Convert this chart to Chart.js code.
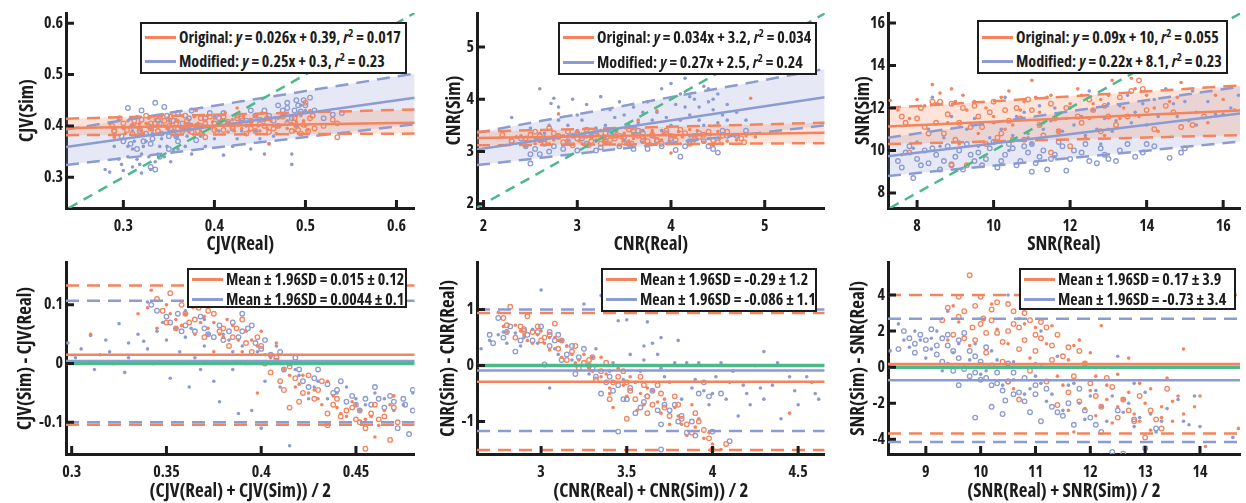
<!DOCTYPE html>
<html>
<head>
<meta charset="utf-8">
<script src="https://cdn.jsdelivr.net/npm/chart.js@4.4.1/dist/chart.umd.min.js"></script>
<style>
body { margin: 0; background: #fff; width: 1246px; height: 503px; position: relative; overflow: hidden; font-family: "Open Sans", sans-serif; }
canvas { position: absolute; }
.leg { position: absolute; border: 2.5px solid #1c1c1c; background: #fff; box-sizing: border-box; color: #1c1c1c; font-weight: bold; font-size: 16px; font-stretch: semi-condensed; }
.leg .row { position: absolute; white-space: nowrap; height: 18px; line-height: 18px; }
.leg .ln { display: inline-block; width: 31px; height: 3px; vertical-align: middle; margin-right: 3px; position: relative; top: -1px; }
.leg sup { font-size: 11px; line-height: 0; }
</style>
</head>
<body>
<canvas id="p1"></canvas>
<canvas id="p2"></canvas>
<canvas id="p3"></canvas>
<canvas id="p4"></canvas>
<canvas id="p5"></canvas>
<canvas id="p6"></canvas>
<script>
// colours
const ORANGE = '#F3845D';
const BLUE = '#8C9BD2';
const GREEN = '#4DB98A';
const ORANGE_FILL = 'rgba(243,132,93,0.22)';
const BLUE_FILL = 'rgba(140,155,210,0.22)';
const INK = '#1c1c1c';

// ============ CJV: Sim vs Real ============
const cjvXRange = [0.237, 0.62];
const cjvYRange = [0.24, 0.62];
const cjvXTicks = ['0.3', '0.4', '0.5', '0.6'];
const cjvYTicks = ['0.3', '0.4', '0.5', '0.6'];
// y at the left and right ends of the axis
const cjvOrigFit = [0.396, 0.406];
const cjvOrigUpper = [0.414, 0.432];
const cjvOrigLower = [0.382, 0.385];
const cjvModFit = [0.359, 0.455];
const cjvModUpper = [0.393, 0.502];
const cjvModLower = [0.324, 0.403];
const cjvOrigDots = [[0.285,0.405],[0.29,0.378],[0.30,0.395],[0.305,0.41],[0.31,0.402],[0.315,0.418],[0.32,0.39],[0.325,0.405],[0.33,0.398],[0.335,0.412],[0.34,0.385],[0.345,0.40],[0.35,0.415],[0.355,0.392],[0.36,0.408],[0.365,0.42],[0.37,0.395],[0.375,0.403],[0.38,0.43],[0.385,0.39],[0.39,0.41],[0.395,0.398],[0.40,0.415],[0.41,0.40],[0.415,0.388],[0.42,0.412],[0.425,0.435],[0.43,0.395],[0.44,0.405],[0.445,0.42],[0.45,0.39],[0.455,0.41],[0.46,0.365],[0.465,0.40],[0.47,0.415],[0.48,0.395],[0.49,0.408],[0.495,0.42],[0.50,0.40],[0.505,0.43],
    [0.295,0.412],[0.302,0.385],[0.308,0.398],[0.318,0.405],[0.322,0.385],[0.328,0.415],[0.332,0.392],[0.338,0.402],[0.343,0.422],[0.348,0.395],[0.352,0.405],[0.358,0.412],[0.362,0.398],[0.368,0.405],[0.372,0.388],[0.378,0.418],[0.382,0.405],[0.388,0.398],[0.392,0.42],[0.398,0.408],[0.402,0.392],[0.408,0.412],[0.412,0.425],[0.418,0.40],[0.422,0.39],[0.428,0.405],[0.432,0.418],[0.438,0.39],[0.442,0.41],[0.448,0.40],[0.452,0.425],[0.458,0.395],[0.462,0.41],[0.468,0.385],[0.472,0.40],[0.478,0.42],[0.485,0.405],[0.488,0.39],[0.498,0.41],[0.502,0.392]];
const cjvOrigRings = [[0.29,0.39],[0.30,0.405],[0.31,0.385],[0.315,0.40],[0.32,0.412],[0.33,0.395],[0.335,0.405],[0.34,0.418],[0.35,0.40],[0.355,0.385],[0.36,0.395],[0.37,0.41],[0.375,0.388],[0.38,0.40],[0.385,0.415],[0.39,0.378],[0.40,0.392],[0.405,0.405],[0.41,0.418],[0.42,0.398],[0.43,0.41],[0.435,0.385],[0.44,0.395],[0.45,0.412],[0.455,0.40],[0.46,0.388],[0.47,0.40],[0.475,0.418],[0.485,0.39],[0.49,0.40],[0.495,0.385],[0.50,0.445],[0.505,0.415],[0.51,0.395],[0.52,0.40],[0.53,0.412],[0.535,0.378],[0.535,0.405],
    [0.288,0.40],[0.296,0.415],[0.304,0.392],[0.312,0.41],[0.318,0.395],[0.325,0.42],[0.33,0.405],[0.338,0.39],[0.345,0.41],[0.352,0.418],[0.358,0.405],[0.365,0.39],[0.368,0.42],[0.372,0.4],[0.382,0.39],[0.39,0.405],[0.395,0.418],[0.41,0.392],[0.415,0.408],[0.425,0.415],[0.44,0.41],[0.445,0.39],[0.458,0.415],[0.465,0.395],[0.48,0.405],[0.488,0.415],[0.492,0.392],[0.498,0.402],[0.503,0.39],[0.508,0.42]];
const cjvModDots = [[0.28,0.315],[0.285,0.31],[0.29,0.36],[0.295,0.335],[0.30,0.313],[0.305,0.34],[0.31,0.32],[0.31,0.355],[0.315,0.335],[0.32,0.345],[0.32,0.308],[0.325,0.37],[0.33,0.315],[0.335,0.33],[0.34,0.36],[0.345,0.34],[0.35,0.39],[0.355,0.35],[0.36,0.355],[0.37,0.38],[0.375,0.345],[0.38,0.40],[0.39,0.36],[0.40,0.375],[0.41,0.343],[0.42,0.36],[0.43,0.39],[0.44,0.355],[0.45,0.375],[0.455,0.345],[0.46,0.365],[0.47,0.40],[0.48,0.41],[0.485,0.325],[0.485,0.345],[0.49,0.42],[0.33,0.395],[0.36,0.41],[0.40,0.42],[0.44,0.41],
    [0.298,0.325],[0.305,0.36],[0.312,0.37],[0.318,0.325],[0.322,0.36],[0.328,0.34],[0.332,0.385],[0.338,0.345],[0.342,0.375],[0.348,0.36],[0.352,0.33],[0.358,0.38],[0.365,0.395],[0.368,0.36],[0.372,0.405],[0.385,0.38],[0.395,0.395],[0.405,0.39],[0.415,0.405],[0.425,0.375],[0.435,0.40],[0.445,0.39],[0.455,0.41],[0.465,0.38],[0.475,0.42],[0.49,0.40],[0.495,0.44],[0.50,0.43],[0.31,0.39],[0.35,0.41]];
const cjvModRings = [[0.29,0.39],[0.30,0.37],[0.305,0.435],[0.31,0.40],[0.315,0.355],[0.32,0.43],[0.325,0.385],[0.33,0.365],[0.335,0.445],[0.34,0.405],[0.345,0.437],[0.35,0.38],[0.355,0.41],[0.36,0.425],[0.37,0.395],[0.375,0.43],[0.38,0.372],[0.39,0.415],[0.40,0.405],[0.41,0.425],[0.42,0.395],[0.43,0.415],[0.44,0.43],[0.45,0.405],[0.46,0.42],[0.47,0.44],[0.48,0.435],[0.485,0.415],[0.49,0.45],[0.495,0.428],[0.50,0.44],[0.505,0.455],[0.51,0.43],[0.52,0.415],[0.53,0.422],[0.54,0.425],[0.335,0.315],[0.33,0.32],
    [0.298,0.38],[0.308,0.365],[0.318,0.39],[0.322,0.37],[0.328,0.40],[0.332,0.375],[0.338,0.41],[0.342,0.385],[0.348,0.42],[0.352,0.395],[0.358,0.38],[0.365,0.405],[0.372,0.415],[0.385,0.4],[0.395,0.425],[0.405,0.415],[0.415,0.405],[0.425,0.42],[0.435,0.41],[0.445,0.42],[0.455,0.43],[0.465,0.41],[0.475,0.43],[0.48,0.445],[0.488,0.43],[0.492,0.44],[0.498,0.45],[0.35,0.355],[0.34,0.34],[0.36,0.37]];
const cjvLegend = ['Original: <i>y</i> = 0.026x + 0.39, <i>r</i><sup>2</sup> = 0.017', 'Modified: <i>y</i> = 0.25x + 0.3, <i>r</i><sup>2</sup> = 0.23'];

// ============ CNR: Sim vs Real ============
const cnrXRange = [1.93, 5.64];
const cnrYRange = [1.92, 5.65];
const cnrXTicks = ['2', '3', '4', '5'];
const cnrYTicks = ['2', '3', '4', '5'];
const cnrOrigFit = [3.26, 3.36];
const cnrOrigUpper = [3.38, 3.55];
const cnrOrigLower = [3.12, 3.16];
const cnrModFit = [3.04, 4.04];
const cnrModUpper = [3.36, 4.58];
const cnrModLower = [2.74, 3.50];
const cnrOrigDots = [[2.35,3.28],[2.5,3.2],[2.6,3.35],[2.7,3.15],[2.8,3.72],[2.85,3.3],[2.9,3.2],[3.0,3.38],[3.05,3.15],[3.1,3.28],[3.2,3.22],[3.25,3.4],[3.3,3.18],[3.4,3.3],[3.45,3.12],[3.5,3.35],[3.6,3.25],[3.65,3.6],[3.7,3.18],[3.8,3.4],[3.85,3.78],[3.9,3.22],[4.0,2.97],[4.05,3.3],[4.1,3.15],[4.2,3.42],[4.25,3.2],[4.3,3.32],[4.4,3.25],[4.45,3.12],[4.5,3.38],[4.6,3.2],[4.8,3.3],[4.85,4.02],[4.9,3.28],
    [2.4,3.3],[2.55,3.15],[2.65,3.28],[2.75,3.22],[2.95,3.3],[3.02,3.2],[3.08,3.35],[3.15,3.25],[3.22,3.32],[3.28,3.22],[3.35,3.15],[3.42,3.38],[3.48,3.25],[3.55,3.2],[3.62,3.32],[3.68,3.4],[3.72,3.25],[3.78,3.15],[3.82,3.28],[3.92,3.35],[3.98,3.2],[4.08,3.38],[4.12,3.28],[4.18,3.2],[4.28,3.4],[4.35,3.18],[4.42,3.32],[4.52,3.25],[4.55,3.15],[4.7,3.22]];
const cnrOrigRings = [[2.2,3.32],[2.3,3.2],[2.45,3.25],[2.55,3.38],[2.65,3.18],[2.7,3.45],[2.8,3.28],[2.9,3.38],[2.95,3.12],[3.05,3.3],[3.1,3.42],[3.15,3.2],[3.25,3.15],[3.3,3.35],[3.4,3.25],[3.5,3.18],[3.55,3.42],[3.65,3.3],[3.75,3.2],[3.8,3.32],[3.9,3.15],[3.95,3.4],[4.05,3.22],[4.15,3.35],[4.2,3.15],[4.3,3.28],[4.4,3.38],[4.5,3.18],[4.55,3.3],[4.75,3.25],[4.78,3.18],
    [2.5,3.32],[2.6,3.22],[2.75,3.35],[2.85,3.18],[3.0,3.25],[3.12,3.12],[3.2,3.38],[3.35,3.22],[3.45,3.3],[3.6,3.38],[3.7,3.28],[3.85,3.22],[4.0,3.3],[4.1,3.42],[4.25,3.25],[4.35,3.32],[4.45,3.22],[4.6,3.38],[3.28,3.28],[3.58,3.15]];
const cnrModDots = [[2.3,3.65],[2.45,3.1],[2.55,3.25],[2.6,4.2],[2.7,3.5],[2.72,3.92],[2.75,4.02],[2.8,3.85],[2.85,3.3],[2.95,4.0],[3.0,3.4],[3.05,3.6],[3.1,3.9],[3.2,3.45],[3.25,4.05],[3.3,3.25],[3.4,3.65],[3.45,3.95],[3.55,3.5],[3.6,3.85],[3.7,3.4],[3.75,3.95],[3.8,3.6],[3.9,4.2],[4.0,3.5],[4.05,3.9],[4.1,4.1],[4.15,4.4],[4.2,3.7],[4.25,4.0],[4.3,3.6],[4.35,4.25],[4.4,3.95],[4.45,3.8],[4.5,4.1],[4.55,3.7],[4.6,3.9],[4.2,3.3],[3.5,3.2],[4.8,3.6],
    [2.5,3.45],[2.65,3.35],[2.8,3.6],[2.9,3.5],[3.0,3.7],[3.15,3.35],[3.3,3.5],[3.35,3.8],[3.5,3.7],[3.65,3.55],[3.7,3.75],[3.85,3.75],[3.95,3.65],[4.0,4.3],[4.1,3.6],[4.15,3.85],[4.2,4.05],[4.3,3.85],[4.35,3.5],[4.4,4.2],[4.45,4.0],[4.5,3.55],[4.6,3.6],[4.7,3.75],[3.9,3.4],[3.6,3.35],[3.2,3.2],[2.6,3.2]];
const cnrModRings = [[2.3,3.2],[2.4,3.25],[2.5,2.77],[2.55,3.05],[2.6,2.95],[2.65,3.15],[2.7,3.0],[2.8,3.3],[2.85,3.05],[2.9,3.2],[3.0,3.02],[3.05,3.25],[3.1,3.15],[3.2,3.02],[3.3,3.2],[3.35,3.35],[3.45,3.1],[3.5,3.28],[3.6,3.05],[3.65,3.4],[3.7,3.2],[3.8,3.3],[3.9,3.1],[4.0,3.25],[4.05,3.03],[4.1,2.9],[4.2,3.2],[4.3,3.35],[4.4,3.1],[4.5,2.98],[4.6,3.3],[4.8,3.4],
    [2.45,3.1],[2.6,3.3],[2.75,3.1],[2.95,3.3],[3.15,3.3],[3.25,3.08],[3.4,3.3],[3.55,3.15],[3.7,3.35],[3.75,3.05],[3.85,3.2],[3.95,3.35],[4.15,3.1],[4.25,3.3],[4.35,3.2],[4.45,3.05],[4.55,3.4],[4.7,3.3],[3.0,3.35],[2.5,2.95]];
const cnrLegend = ['Original: <i>y</i> = 0.034x + 3.2, <i>r</i><sup>2</sup> = 0.034', 'Modified: <i>y</i> = 0.27x + 2.5, <i>r</i><sup>2</sup> = 0.24'];

// ============ SNR: Sim vs Real ============
const snrXRange = [7.24, 16.44];
const snrYRange = [7.29, 16.47];
const snrXTicks = ['8', '10', '12', '14', '16'];
const snrYTicks = ['8', '10', '12', '14', '16'];
const snrOrigFit = [11.13, 11.88];
const snrOrigUpper = [12.0, 13.06];
const snrOrigLower = [10.3, 10.72];
const snrModFit = [9.72, 11.74];
const snrModUpper = [10.6, 13.0];
const snrModLower = [8.8, 10.42];
const snrOrigDots = [[7.3,12.35],[7.8,11.5],[8.2,12.1],[8.4,13.1],[8.6,12.7],[8.8,11.3],[9.0,12.3],[9.3,11.9],[9.6,10.8],[9.8,12.0],[10.0,11.6],[10.2,12.5],[10.5,11.2],[10.8,12.3],[11.0,13.3],[11.2,11.8],[11.4,12.5],[11.7,10.9],[12.0,12.2],[12.2,12.9],[12.5,11.5],[12.8,12.4],[13.0,11.0],[13.1,13.3],[13.4,12.0],[13.6,13.4],[13.8,11.6],[14.0,12.6],[14.3,10.9],[14.6,12.3],[14.9,13.2],[15.3,11.8],[15.6,11.3],[16.0,12.4],[16.3,11.9],[12.4,10.6],[10.9,10.6],[9.1,10.3],
    [7.5,11.9],[8.0,12.4],[8.5,12.2],[9.2,12.6],[9.5,12.3],[10.4,12.8],[10.7,11.9],[11.1,12.5],[11.5,12.6],[11.9,11.5],[12.3,12.6],[12.6,12.2],[13.0,12.6],[13.3,11.5],[13.7,12.9],[14.2,12.0],[14.8,12.5],[15.1,11.4],[15.8,12.6],[16.2,13.0],[10.3,11.0],[11.3,11.3],[12.9,10.7],[8.9,12.9]];
const snrOrigRings = [[7.6,11.6],[7.8,9.9],[8.0,11.5],[8.1,12.0],[8.3,10.8],[8.5,11.3],[8.6,12.3],[8.8,11.7],[8.9,9.35],[9.0,10.5],[9.2,12.0],[9.3,9.3],[9.4,11.1],[9.6,11.6],[9.8,10.3],[10.0,12.3],[10.2,10.8],[10.4,11.4],[10.6,12.0],[10.8,10.5],[11.0,11.9],[11.2,11.2],[11.5,12.2],[11.7,10.9],[12.0,10.2],[12.3,11.3],[12.6,11.9],[12.8,10.9],[13.0,11.6],[13.3,12.5],[13.6,12.8],[13.8,13.3],[14.2,11.0],[14.5,12.1],[14.9,11.1],[15.5,11.6],[11.5,9.9],
    [7.7,11.3],[8.2,11.1],[8.4,12.3],[8.7,10.8],[8.9,12.2],[9.1,11.3],[9.5,12.1],[9.7,11.1],[9.9,11.8],[10.1,10.6],[10.3,11.9],[10.5,10.5],[10.7,11.5],[10.9,12.4],[11.3,10.7],[11.6,11.5],[11.9,12.0],[12.2,11.6],[12.5,12.4],[12.9,12.1],[13.2,11.2],[13.5,11.6],[14.0,11.9],[14.7,11.8],[15.2,11.2],[13.9,12.9]];
const snrModDots = [[7.6,9.8],[8.0,10.4],[8.4,12.5],[8.7,10.6],[9.0,12.3],[9.3,11.0],[9.6,10.2],[10.0,11.3],[10.3,12.5],[10.5,10.7],[10.8,11.8],[11.0,10.3],[11.2,12.1],[11.5,11.4],[11.8,10.9],[12.0,12.0],[12.3,11.6],[12.5,12.8],[12.7,11.0],[13.0,12.2],[13.2,11.4],[13.5,12.6],[13.7,11.8],[14.0,11.2],[14.2,12.4],[14.5,12.9],[14.8,11.6],[15.0,12.3],[15.3,11.2],[15.6,12.3],[16.0,11.7],[16.4,12.6],[12.8,10.3],[11.6,9.7],
    [7.9,10.1],[8.3,11.0],[8.6,10.2],[8.9,11.6],[9.1,10.4],[9.5,11.5],[9.9,10.6],[10.2,11.0],[10.6,11.6],[10.9,10.8],[11.3,11.0],[11.6,12.0],[12.1,11.2],[12.4,10.7],[12.6,11.9],[12.9,11.5],[13.3,12.1],[13.6,11.3],[13.9,12.2],[14.3,11.6],[14.7,12.2],[15.2,12.8],[15.8,11.7],[16.2,12.0],[13.1,10.9],[10.4,10.0]];
const snrModRings = [[7.5,9.5],[7.7,9.9],[7.9,8.7],[8.0,9.6],[8.2,10.0],[8.3,9.4],[8.5,9.8],[8.7,9.5],[8.8,10.2],[9.0,9.7],[9.2,9.1],[9.3,10.3],[9.5,9.5],[9.6,9.9],[9.8,9.6],[10.0,10.4],[10.1,9.2],[10.3,9.8],[10.5,10.1],[10.7,9.5],[10.9,9.9],[11.0,10.3],[11.2,9.7],[11.4,9.1],[11.6,9.8],[11.8,10.2],[12.0,9.6],[12.3,9.9],[12.5,9.5],[12.8,10.1],[13.0,9.6],[13.3,10.0],[13.7,9.7],[14.0,10.3],[14.6,9.65],[15.0,10.1],[11.9,9.05],
    [7.6,9.2],[7.8,10.2],[8.1,9.3],[8.4,10.1],[8.6,9.1],[8.9,9.3],[9.1,10.0],[9.4,9.8],[9.7,9.3],[9.9,10.1],[10.2,9.5],[10.4,10.3],[10.6,9.3],[10.8,10.2],[11.1,9.4],[11.3,10.0],[11.5,9.6],[11.7,10.4],[12.1,10.0],[12.4,10.3],[12.7,9.4],[12.9,9.8],[13.2,9.5],[13.5,10.3],[13.9,9.9],[14.2,10.2],[14.9,9.9],[11.0,9.0]];
const snrLegend = ['Original: <i>y</i> = 0.09x + 10, <i>r</i><sup>2</sup> = 0.055', 'Modified: <i>y</i> = 0.22x + 8.1, <i>r</i><sup>2</sup> = 0.23'];

// ============ CJV: Bland-Altman ============
const cjvBaXRange = [0.297, 0.481];
const cjvBaYRange = [-0.154, 0.172];
const cjvBaXTicks = ['0.3', '0.35', '0.4', '0.45'];
const cjvBaYTicks = ['-0.1', '0', '0.1'];
const cjvBaOrig = [0.015, 0.133, -0.104];   // mean, upper, lower
const cjvBaMod = [0.0044, 0.107, -0.100];
const cjvBaOrigDots = [[0.31,0.05],[0.335,0.085],[0.342,0.125],[0.345,0.06],[0.35,0.10],[0.355,0.075],[0.36,0.085],[0.362,0.11],[0.365,0.05],[0.37,0.08],[0.372,0.06],[0.375,0.07],[0.38,0.045],[0.385,0.065],[0.39,0.02],[0.395,0.04],[0.40,0.055],[0.405,0.01],[0.41,0.00],[0.415,-0.02],[0.42,-0.035],[0.425,-0.05],[0.43,-0.06],[0.435,-0.03],[0.44,-0.075],[0.445,-0.09],[0.45,-0.07],[0.455,-0.095],[0.46,-0.125],[0.465,-0.08],[0.47,-0.055],[0.398,-0.05],[0.375,0.02],
    [0.34,0.095],[0.352,0.085],[0.358,0.065],[0.364,0.095],[0.368,0.07],[0.378,0.05],[0.382,0.075],[0.388,0.04],[0.392,0.055],[0.398,0.03],[0.402,0.015],[0.408,0.035],[0.412,-0.01],[0.418,-0.04],[0.422,-0.02],[0.428,-0.045],[0.432,-0.07],[0.438,-0.055],[0.442,-0.085],[0.448,-0.065],[0.452,-0.08],[0.458,-0.09],[0.462,-0.105],[0.468,-0.07]];
const cjvBaOrigRings = [[0.348,0.09],[0.352,0.12],[0.355,0.06],[0.358,0.10],[0.362,0.07],[0.367,0.095],[0.37,0.045],[0.375,0.085],[0.378,0.055],[0.383,0.03],[0.387,0.06],[0.39,0.075],[0.395,0.02],[0.40,0.03],[0.405,-0.015],[0.41,-0.03],[0.415,-0.005],[0.42,-0.065],[0.425,-0.02],[0.43,-0.045],[0.435,-0.085],[0.44,-0.06],[0.445,-0.08],[0.45,-0.095],[0.455,-0.11],[0.46,-0.07],[0.465,-0.09],[0.468,-0.13],[0.47,-0.075],[0.435,-0.105],[0.415,-0.075],[0.455,-0.145],
    [0.345,0.11],[0.35,0.07],[0.36,0.085],[0.365,0.075],[0.372,0.09],[0.38,0.06],[0.385,0.045],[0.392,0.035],[0.398,0.045],[0.402,0.0],[0.408,0.01],[0.412,-0.045],[0.418,-0.025],[0.422,-0.05],[0.428,-0.06],[0.432,-0.03],[0.438,-0.07],[0.442,-0.09],[0.448,-0.075],[0.452,-0.1],[0.458,-0.085],[0.462,-0.095],[0.472,-0.1]];
const cjvBaModDots = [[0.298,0.035],[0.302,0.01],[0.31,0.048],[0.312,-0.01],[0.315,0.015],[0.32,0.02],[0.322,0.0],[0.325,0.068],[0.328,-0.015],[0.33,0.035],[0.335,0.05],[0.34,0.025],[0.345,0.055],[0.35,0.04],[0.352,-0.025],[0.355,0.06],[0.36,0.045],[0.362,-0.04],[0.365,0.01],[0.37,0.075],[0.375,-0.03],[0.378,-0.065],[0.38,0.05],[0.385,0.02],[0.388,-0.085],[0.39,0.03],[0.395,-0.08],[0.40,-0.11],[0.405,0.0],[0.41,-0.04],[0.415,-0.14],[0.42,-0.02],[0.425,-0.06],[0.43,-0.03],[0.44,-0.05],[0.45,-0.06],[0.47,-0.08],[0.48,-0.05],[0.34,0.105],[0.36,0.09],[0.37,0.03],
    [0.305,0.025],[0.318,0.04],[0.33,0.01],[0.338,0.038],[0.343,0.0],[0.348,0.07],[0.357,0.02],[0.363,0.06],[0.368,-0.01],[0.372,0.05],[0.383,0.04],[0.392,0.0],[0.398,0.02],[0.402,-0.03],[0.408,0.03],[0.418,-0.01],[0.428,-0.04],[0.435,-0.06],[0.445,-0.04],[0.455,-0.07],[0.46,-0.05],[0.465,-0.06],[0.475,-0.07],[0.385,-0.01]];
const cjvBaModRings = [[0.342,0.10],[0.35,0.08],[0.356,0.085],[0.36,0.065],[0.365,0.055],[0.37,0.06],[0.375,0.045],[0.38,0.04],[0.385,0.07],[0.39,0.055],[0.393,0.06],[0.397,0.035],[0.40,0.025],[0.405,0.015],[0.41,0.02],[0.415,0.0],[0.42,-0.01],[0.425,-0.04],[0.43,-0.01],[0.435,-0.035],[0.44,-0.045],[0.445,-0.065],[0.45,-0.07],[0.455,-0.06],[0.46,-0.04],[0.465,-0.075],[0.47,-0.065],[0.475,-0.06],[0.478,-0.12],[0.48,-0.045],[0.472,-0.11],[0.39,0.085],
    [0.345,0.09],[0.352,0.07],[0.358,0.055],[0.368,0.08],[0.372,0.05],[0.378,0.065],[0.383,0.055],[0.388,0.045],[0.395,0.065],[0.402,0.04],[0.408,0.005],[0.412,-0.01],[0.418,0.01],[0.422,-0.03],[0.428,-0.025],[0.438,-0.05],[0.442,-0.03],[0.448,-0.055],[0.452,-0.08],[0.458,-0.07],[0.462,-0.06],[0.468,-0.055],[0.476,-0.07],[0.48,-0.08]];
const cjvBaLegend = ['Mean ± 1.96SD = 0.015 ± 0.12', 'Mean ± 1.96SD = 0.0044 ± 0.1'];

// ============ CNR: Bland-Altman ============
const cnrBaXRange = [2.626, 4.655];
const cnrBaYRange = [-1.58, 1.84];
const cnrBaXTicks = ['3', '3.5', '4', '4.5'];
const cnrBaYTicks = ['-1', '0', '1'];
const cnrBaOrig = [-0.29, 0.94, -1.51];
const cnrBaMod = [-0.086, 1.0, -1.17];
const cnrBaOrigDots = [[2.75,0.95],[2.8,0.6],[2.85,0.72],[2.9,0.55],[2.95,0.4],[3.0,0.62],[3.05,0.28],[3.1,0.45],[3.12,0.15],[3.15,0.35],[3.2,0.05],[3.25,0.2],[3.3,-0.1],[3.35,-0.2],[3.4,-0.4],[3.45,-0.05],[3.5,-0.55],[3.55,-0.3],[3.6,-0.7],[3.65,-0.45],[3.7,-0.85],[3.72,-0.6],[3.75,-1.05],[3.8,-0.9],[3.85,-1.25],[3.88,-0.7],[3.9,-1.1],[3.95,-1.3],[4.0,-1.4],[4.05,-1.5],[4.45,-0.85],[3.42,-0.75],[3.35,0.15],
    [2.78,0.7],[2.88,0.62],[2.92,0.45],[2.98,0.55],[3.02,0.4],[3.08,0.5],[3.18,0.2],[3.22,0.1],[3.28,-0.05],[3.32,0.0],[3.38,-0.15],[3.48,-0.35],[3.52,-0.2],[3.58,-0.5],[3.62,-0.4],[3.68,-0.65],[3.78,-0.75],[3.82,-1.05],[3.92,-0.95],[3.98,-1.2],[3.4,-0.5],[3.56,-0.8]];
const cnrBaOrigRings = [[2.78,0.85],[2.82,1.05],[2.85,0.5],[2.88,0.7],[2.92,0.88],[2.95,0.6],[3.0,0.45],[3.05,0.55],[3.08,0.75],[3.1,0.3],[3.15,0.1],[3.2,0.35],[3.22,-0.05],[3.28,0.1],[3.32,-0.25],[3.38,0.05],[3.42,-0.3],[3.48,-0.1],[3.52,-0.45],[3.58,-0.2],[3.62,-0.55],[3.68,-0.35],[3.72,-0.75],[3.78,-0.55],[3.82,-0.95],[3.85,-1.05],[3.9,-0.85],[3.95,-1.15],[4.0,-1.5],[4.08,-1.4],[3.5,-0.95],
    [2.8,0.72],[2.9,0.62],[2.98,0.7],[3.02,0.5],[3.12,0.45],[3.18,0.25],[3.25,0.05],[3.3,0.15],[3.35,-0.1],[3.45,-0.2],[3.5,-0.3],[3.55,-0.6],[3.6,-0.35],[3.65,-0.7],[3.7,-0.5],[3.75,-0.9],[3.8,-0.7],[3.88,-1.2],[3.92,-1.0],[3.98,-1.3],[3.4,-0.6],[3.62,-0.85]];
const cnrBaModDots = [[2.65,0.3],[2.75,0.55],[2.8,0.4],[2.85,0.58],[2.9,0.5],[2.95,0.65],[3.0,1.35],[3.05,0.5],[3.1,0.2],[3.15,0.35],[3.2,0.0],[3.25,1.1],[3.3,0.15],[3.35,1.25],[3.4,-0.1],[3.45,0.8],[3.5,0.82],[3.52,0.2],[3.55,-0.3],[3.6,0.1],[3.62,0.78],[3.65,0.4],[3.7,0.5],[3.75,-0.3],[3.8,0.45],[3.85,0.05],[3.9,-0.25],[3.95,-0.45],[4.0,-0.5],[4.05,0.05],[4.1,-0.3],[4.15,-0.9],[4.2,-0.5],[4.25,0.0],[4.3,-0.6],[4.35,-0.35],[4.4,-0.95],[4.45,-0.2],[4.5,-0.7],[4.55,-0.2],[4.6,-0.5],[4.3,0.25],[3.05,-0.4],[3.7,-0.05],
    [2.7,0.45],[2.78,0.6],[2.88,0.35],[2.98,0.4],[3.08,0.3],[3.12,0.45],[3.18,0.1],[3.28,-0.15],[3.32,0.3],[3.42,0.05],[3.48,-0.25],[3.58,-0.1],[3.68,0.2],[3.72,-0.2],[3.78,0.05],[3.82,-0.6],[3.88,-0.4],[3.92,0.05],[3.98,-0.7],[4.02,-0.2],[4.08,-0.6],[4.12,-0.1],[4.18,-0.35],[4.22,-0.7],[4.28,-0.4],[4.38,0.05],[4.48,-0.45],[4.58,-0.3],[4.62,-0.6],[3.6,0.35]];
const cnrBaModRings = [[2.72,0.4],[2.75,0.85],[2.8,0.6],[2.85,0.25],[2.9,0.65],[2.95,0.45],[3.0,0.7],[3.02,0.02],[3.05,0.35],[3.1,0.55],[3.15,0.2],[3.2,-0.15],[3.25,0.3],[3.3,-0.05],[3.35,-0.5],[3.4,-0.2],[3.45,-0.35],[3.5,-0.6],[3.55,-0.85],[3.6,-0.65],[3.65,-0.45],[3.7,-1.05],[3.72,-0.7],[3.75,-0.8],[3.8,-1.0],[3.85,-1.2],[3.9,-1.25],[4.1,-1.35],[3.7,-1.5],[4.0,-1.18],[3.45,-1.18],[3.12,0.1],
    [2.7,0.55],[2.78,0.5],[2.82,0.7],[2.88,0.45],[2.92,0.55],[2.98,0.6],[3.05,0.6],[3.08,0.45],[3.18,0.35],[3.22,0.15],[3.28,0.0],[3.32,-0.2],[3.38,-0.3],[3.42,-0.45],[3.48,-0.6],[3.52,-0.4],[3.58,-0.75],[3.62,-0.55],[3.68,-0.8],[3.78,-0.7],[3.82,-0.9],[3.88,-1.0],[3.92,-0.5],[3.98,-0.55],[4.05,-0.5],[3.95,-0.3]];
const cnrBaLegend = ['Mean ± 1.96SD = -0.29 ± 1.2', 'Mean ± 1.96SD = -0.086 ± 1.1'];

// ============ SNR: Bland-Altman ============
const snrBaXRange = [8.31, 14.73];
const snrBaYRange = [-4.82, 5.8];
const snrBaXTicks = ['9', '10', '11', '12', '13', '14'];
const snrBaYTicks = ['-4', '-2', '0', '2', '4'];
const snrBaOrig = [0.17, 4.0, -3.68];
const snrBaMod = [-0.73, 2.68, -4.15];
const snrBaOrigRings = [[9.3,2.6],[9.5,1.8],[9.6,3.9],[9.7,3.1],[9.8,5.1],[9.85,2.2],[9.9,1.5],[10.0,3.9],[10.05,2.7],[10.1,0.8],[10.2,3.2],[10.3,1.9],[10.4,0.3],[10.5,3.5],[10.6,2.4],[10.7,1.0],[10.8,3.0],[10.9,-0.2],[11.0,1.8],[11.1,2.5],[11.2,-0.8],[11.3,1.2],[11.5,0.6],[11.6,-1.4],[11.8,0.9],[12.0,-0.9],[12.2,-2.2],[12.4,-1.1],[12.5,-2.8],[12.7,-2.4],[12.9,-1.6],[13.0,-3.9],[13.2,-2.9],[13.4,-1.2],[10.7,-1.8],[11.4,-2.1],
    [9.4,3.3],[9.6,2.8],[9.7,1.6],[9.9,3.4],[10.0,2.4],[10.1,1.9],[10.2,2.6],[10.3,3.6],[10.4,1.4],[10.5,2.0],[10.6,3.1],[10.7,2.2],[10.8,1.5],[10.9,2.6],[11.0,0.9],[11.1,1.6],[11.2,2.2],[11.3,0.4],[11.4,1.8],[11.6,1.1],[11.7,-0.5],[11.9,0.2],[12.1,-1.6],[12.3,-0.6],[12.6,-1.8],[12.8,-3.0],[13.1,-2.4],[13.3,-3.4],[10.5,-0.8],[11.8,-1.9]];
const snrBaOrigDots = [[9.4,1.5],[9.6,2.5],[10.0,0.2],[10.3,2.1],[10.6,-1.2],[10.9,0.5],[11.0,2.2],[11.2,1.3],[11.4,-0.5],[11.6,0.4],[11.8,1.5],[11.9,-2.3],[12.0,0.8],[12.1,-2.7],[12.2,2.3],[12.3,-1.0],[12.4,-3.1],[12.5,-0.4],[12.6,-1.8],[12.8,-2.6],[12.9,-0.9],[13.0,-2.0],[13.1,-3.5],[13.3,-2.2],[13.4,-0.6],[13.5,-3.0],[13.6,-1.6],[13.7,1.0],[14.0,-1.6],[14.1,-4.4],[14.7,-3.4],[12.7,0.5],[11.7,-3.6],
    [9.5,3.4],[9.8,1.2],[10.2,3.5],[10.5,1.3],[10.8,2.4],[11.1,0.0],[11.3,2.3],[11.5,-1.0],[11.7,1.2],[11.9,0.2],[12.1,-0.5],[12.3,-1.8],[12.5,-2.2],[12.7,-1.4],[12.9,-3.0],[13.1,-1.2],[13.3,-2.8],[13.5,-1.9],[13.7,-2.6],[13.9,-2.2],[12.0,-1.3],[11.6,-2.4]];
const snrBaModDots = [[8.35,0.9],[8.5,2.4],[8.6,1.5],[8.8,2.0],[9.0,0.5],[9.1,1.6],[9.3,-0.2],[9.4,3.1],[9.5,0.8],[9.7,0.0],[9.9,1.3],[10.0,-0.4],[10.2,0.9],[10.4,-1.0],[10.5,4.0],[10.6,0.3],[10.8,-1.5],[11.0,-0.5],[11.1,2.0],[11.2,-1.9],[11.4,0.6],[11.5,-2.4],[11.7,-0.9],[11.9,-2.9],[12.1,-1.3],[12.3,-3.0],[12.5,0.6],[12.6,-2.5],[12.8,-3.3],[13.0,-1.4],[13.2,-3.6],[13.4,-2.3],[13.6,-1.8],[13.8,-3.2],[14.0,-3.3],[14.6,-3.9],[12.2,-4.9],[10.7,2.7],
    [8.7,1.1],[8.9,1.5],[9.1,1.0],[9.2,2.0],[9.4,0.2],[9.6,1.3],[9.8,0.4],[10.1,-0.2],[10.3,0.4],[10.6,-0.7],[10.9,-1.2],[11.1,-0.9],[11.3,-1.5],[11.6,-1.0],[11.8,-2.0],[12.0,-1.6],[12.2,-2.2],[12.4,-1.6],[12.7,-2.0],[12.9,-2.8],[13.1,-2.6],[13.3,-3.0],[13.7,-3.0],[13.9,-1.6],[11.0,0.2],[12.8,-0.9]];
const snrBaModRings = [[8.5,1.0],[8.6,2.0],[8.8,1.3],[8.9,1.8],[9.0,1.0],[9.1,2.1],[9.2,0.7],[9.3,1.6],[9.4,1.2],[9.5,-0.2],[9.6,0.5],[9.7,1.9],[9.8,-0.5],[9.9,0.6],[10.0,-0.7],[10.1,1.1],[10.2,-1.0],[10.3,-0.3],[10.4,-1.3],[10.5,0.2],[10.6,-1.5],[10.8,-0.6],[10.9,-2.5],[11.0,-1.0],[11.1,-3.0],[11.3,-2.2],[11.5,-2.7],[11.7,-3.2],[11.8,-1.2],[12.0,-2.8],[12.2,-3.6],[12.4,-4.7],[12.6,-4.8],[13.0,-4.5],[10.2,-2.2],[9.9,-2.8],[10.45,-1.85],
    [8.7,1.6],[8.8,0.8],[9.0,1.5],[9.2,1.2],[9.3,0.3],[9.4,1.8],[9.5,0.9],[9.6,1.5],[9.7,-0.1],[9.8,0.9],[9.9,-0.3],[10.0,0.3],[10.1,-0.6],[10.2,0.1],[10.3,-0.9],[10.5,-0.8],[10.6,-0.3],[10.7,-1.4],[10.8,-1.9],[11.0,-1.5],[11.2,-1.2],[11.4,-2.5],[11.6,-2.0],[11.9,-2.4],[12.1,-3.2],[12.5,-2.4],[12.8,-2.9],[13.2,-3.4],[9.6,-1.0],[10.4,-2.6]];
const snrBaLegend = ['Mean ± 1.96SD = 0.17 ± 3.9', 'Mean ± 1.96SD = -0.73 ± 3.4'];

// ============ helpers ============
const pts = arr => arr.map(p => ({ x: p[0], y: p[1] }));
const seg = (xr, yv) => [{ x: xr[0], y: yv[0] }, { x: xr[1], y: yv[1] }];
const flat = (xr, v) => [{ x: xr[0], y: v }, { x: xr[1], y: v }];

function dots(data, color, order) {
    return { data: pts(data), pointRadius: 1.8, pointBackgroundColor: color, pointBorderWidth: 0, order: order };
}
function rings(data, color, order) {
    return { data: pts(data), pointRadius: 2.3, pointBackgroundColor: 'rgba(0,0,0,0)', pointBorderColor: color, pointBorderWidth: 1.3, order: order };
}
function line(data, color, width, dash, order) {
    return { data: data, showLine: true, pointRadius: 0, borderColor: color, borderWidth: width, borderDash: dash || [], fill: false, order: order };
}
function band(data, fillColor, toNext, order) {
    return { data: data, showLine: true, pointRadius: 0, borderWidth: 0, borderColor: 'rgba(0,0,0,0)', backgroundColor: fillColor, fill: toNext ? '+1' : false, order: order };
}

// inward tick marks like the original figure
const inwardTicks = {
    id: 'inwardTicks',
    afterDatasetsDraw(chart) {
        const { ctx, chartArea: a, scales: { x, y } } = chart;
        ctx.save();
        ctx.strokeStyle = INK;
        ctx.lineWidth = 3;
        ctx.beginPath();
        x.ticks.forEach(t => { const px = x.getPixelForValue(t.value); ctx.moveTo(px, a.bottom); ctx.lineTo(px, a.bottom - 8); });
        y.ticks.forEach(t => { const py = y.getPixelForValue(t.value); ctx.moveTo(a.left, py); ctx.lineTo(a.left + 8, py); });
        ctx.stroke();
        ctx.restore();
    }
};

const tickFont = { family: "'Open Sans', sans-serif", size: 16, weight: 'bold semi-condensed' };
const titleFont = { family: "'Open Sans', sans-serif", size: 19, weight: 'bold semi-condensed', lineHeight: 1 };

function axis(range, labels, title, fitSize, titlePad, horizontal) {
    return {
        type: 'linear',
        min: range[0],
        max: range[1],
        afterFit: s => { if (horizontal) s.height = fitSize; else s.width = fitSize; },
        afterBuildTicks: s => { s.ticks = labels.map(l => ({ value: parseFloat(l) })); },
        ticks: { autoSkip: false, maxRotation: 0, padding: horizontal ? 9 : 3, color: INK, font: tickFont, callback: (v, i) => labels[i] },
        grid: { display: false, drawTicks: false },
        border: { display: true, width: 3, color: INK },
        title: { display: true, text: title, color: INK, font: titleFont, padding: horizontal ? { top: 0, bottom: titlePad } : { top: titlePad, bottom: 0 } }
    };
}

function makePanel(box, datasets, xAxis, yAxis) {
    const c = document.getElementById(box.id);
    c.width = box.w;
    c.height = box.h;
    c.style.left = box.left + 'px';
    c.style.top = box.top + 'px';
    new Chart(c, {
        type: 'scatter',
        data: { datasets: datasets },
        options: {
            responsive: false,
            animation: false,
            layout: { padding: { top: box.padTop, right: box.padRight, left: 0, bottom: 0 } },
            plugins: { legend: { display: false }, tooltip: { enabled: false } },
            scales: { x: xAxis, y: yAxis }
        },
        plugins: [inwardTicks]
    });
}

function scatterPanel(box, s) {
    const xr = s.xr;
    const ds = [
        band(seg(xr, s.origUpper), ORANGE_FILL, true, 20),
        band(seg(xr, s.origLower), ORANGE_FILL, false, 20),
        band(seg(xr, s.modUpper), BLUE_FILL, true, 21),
        band(seg(xr, s.modLower), BLUE_FILL, false, 21),
        rings(s.modRings, BLUE, 13),
        dots(s.modDots, BLUE, 12),
        rings(s.origRings, ORANGE, 11),
        dots(s.origDots, ORANGE, 10),
        line(seg(xr, s.origUpper), ORANGE, 2.5, [13, 8], 4),
        line(seg(xr, s.origLower), ORANGE, 2.5, [13, 8], 4),
        line(seg(xr, s.modUpper), BLUE, 2.5, [13, 8], 5),
        line(seg(xr, s.modLower), BLUE, 2.5, [13, 8], 5),
        line(seg(xr, s.origFit), ORANGE, 2.5, null, 2),
        line(seg(xr, s.modFit), BLUE, 2.5, null, 3),
        line([{ x: s.yr[0], y: s.yr[0] }, { x: s.yr[1], y: s.yr[1] }], GREEN, 2.5, [10, 7], 1)
    ];
    makePanel(box, ds, axis(xr, s.xt, s.xTitle, box.xh, box.xTitle, true), axis(s.yr, s.yt, s.yTitle, box.yw, box.yTitle, false));
}

function baPanel(box, s) {
    const xr = s.xr;
    const ds = [
        rings(s.modRings, BLUE, 13),
        dots(s.modDots, BLUE, 12),
        rings(s.origRings, ORANGE, 11),
        dots(s.origDots, ORANGE, 10),
        line(flat(xr, s.orig[1]), ORANGE, 2.5, [13, 8], 5),
        line(flat(xr, s.orig[2]), ORANGE, 2.5, [13, 8], 5),
        line(flat(xr, s.mod[1]), BLUE, 2.5, [13, 8], 4),
        line(flat(xr, s.mod[2]), BLUE, 2.5, [13, 8], 4),
        line(flat(xr, s.orig[0]), ORANGE, 2.5, null, 3),
        line(flat(xr, s.mod[0]), BLUE, 2.5, null, 2),
        line(flat(xr, 0), GREEN, 3.5, null, 1)
    ];
    makePanel(box, ds, axis(xr, s.xt, s.xTitle, box.xh, box.xTitle, true), axis(s.yr, s.yt, s.yTitle, box.yw, box.yTitle, false));
}

function legend(pos, texts) {
    const el = document.createElement('div');
    el.className = 'leg';
    el.style.left = pos.left + 'px';
    el.style.top = pos.top + 'px';
    el.style.width = pos.w + 'px';
    el.style.height = pos.h + 'px';
    [ORANGE, BLUE].forEach((col, i) => {
        const r = document.createElement('div');
        r.className = 'row';
        r.style.left = '3px';
        r.style.top = pos.rows[i] + 'px';
        r.innerHTML = '<span class="ln" style="background:' + col + '"></span>' + texts[i];
        el.appendChild(r);
    });
    document.body.appendChild(el);
}

// ============ build ============
scatterPanel({ id: 'p1', left: 0, top: 0, w: 420, h: 256, yw: 66, xh: 48, padTop: 13, padRight: 0, yTitle: 18.5, xTitle: 2 },
    { xr: cjvXRange, yr: cjvYRange, xt: cjvXTicks, yt: cjvYTicks, xTitle: 'CJV(Real)', yTitle: 'CJV(Sim)',
      origFit: cjvOrigFit, origUpper: cjvOrigUpper, origLower: cjvOrigLower, modFit: cjvModFit, modUpper: cjvModUpper, modLower: cjvModLower,
      origDots: cjvOrigDots, origRings: cjvOrigRings, modDots: cjvModDots, modRings: cjvModRings });
scatterPanel({ id: 'p2', left: 420, top: 0, w: 410, h: 256, yw: 57, xh: 48, padTop: 13, padRight: 0, yTitle: 25.5, xTitle: 2 },
    { xr: cnrXRange, yr: cnrYRange, xt: cnrXTicks, yt: cnrYTicks, xTitle: 'CNR(Real)', yTitle: 'CNR(Sim)',
      origFit: cnrOrigFit, origUpper: cnrOrigUpper, origLower: cnrOrigLower, modFit: cnrModFit, modUpper: cnrModUpper, modLower: cnrModLower,
      origDots: cnrOrigDots, origRings: cnrOrigRings, modDots: cnrModDots, modRings: cnrModRings });
scatterPanel({ id: 'p3', left: 830, top: 0, w: 416, h: 256, yw: 58, xh: 48, padTop: 13, padRight: 6, yTitle: 24.5, xTitle: 2 },
    { xr: snrXRange, yr: snrYRange, xt: snrXTicks, yt: snrYTicks, xTitle: 'SNR(Real)', yTitle: 'SNR(Sim)',
      origFit: snrOrigFit, origUpper: snrOrigUpper, origLower: snrOrigLower, modFit: snrModFit, modUpper: snrModUpper, modLower: snrModLower,
      origDots: snrOrigDots, origRings: snrOrigRings, modDots: snrModDots, modRings: snrModRings });

baPanel({ id: 'p4', left: 0, top: 250, w: 420, h: 253, yw: 66, xh: 49, padTop: 10, padRight: 0, yTitle: 16.5, xTitle: 1.5 },
    { xr: cjvBaXRange, yr: cjvBaYRange, xt: cjvBaXTicks, yt: cjvBaYTicks, xTitle: '(CJV(Real) + CJV(Sim)) / 2', yTitle: 'CJV(Sim) - CJV(Real)',
      orig: cjvBaOrig, mod: cjvBaMod, origDots: cjvBaOrigDots, origRings: cjvBaOrigRings, modDots: cjvBaModDots, modRings: cjvBaModRings });
baPanel({ id: 'p5', left: 420, top: 250, w: 410, h: 253, yw: 57, xh: 49, padTop: 10, padRight: 0, yTitle: 19.5, xTitle: 1.5 },
    { xr: cnrBaXRange, yr: cnrBaYRange, xt: cnrBaXTicks, yt: cnrBaYTicks, xTitle: '(CNR(Real) + CNR(Sim)) / 2', yTitle: 'CNR(Sim) - CNR(Real)',
      orig: cnrBaOrig, mod: cnrBaMod, origDots: cnrBaOrigDots, origRings: cnrBaOrigRings, modDots: cnrBaModDots, modRings: cnrBaModRings });
baPanel({ id: 'p6', left: 830, top: 250, w: 416, h: 253, yw: 58, xh: 49, padTop: 10, padRight: 6, yTitle: 19.5, xTitle: 1.5 },
    { xr: snrBaXRange, yr: snrBaYRange, xt: snrBaXTicks, yt: snrBaYTicks, xTitle: '(SNR(Real) + SNR(Sim)) / 2', yTitle: 'SNR(Sim) - SNR(Real)',
      orig: snrBaOrig, mod: snrBaMod, origDots: snrBaOrigDots, origRings: snrBaOrigRings, modDots: snrBaModDots, modRings: snrBaModRings });

legend({ left: 140, top: 22, w: 267, h: 52, rows: [4, 28] }, cjvLegend);
legend({ left: 558, top: 22, w: 259, h: 53, rows: [4, 29] }, cnrLegend);
legend({ left: 977, top: 20, w: 251, h: 54, rows: [6, 30] }, snrLegend);
legend({ left: 187, top: 268, w: 220, h: 40, rows: [0, 20] }, cjvBaLegend);
legend({ left: 601, top: 268, w: 216, h: 44, rows: [0, 20] }, cnrBaLegend);
legend({ left: 1019, top: 268, w: 217, h: 42, rows: [0, 20] }, snrBaLegend);
</script>
</body>
</html>
